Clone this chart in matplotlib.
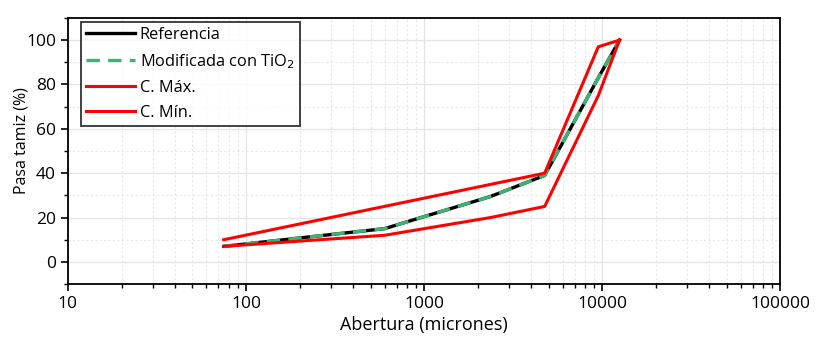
import matplotlib.pyplot as plt
from matplotlib.ticker import LogLocator, MultipleLocator, FixedLocator, FixedFormatter

# datos
abertura = [75, 600, 2360, 4750, 9500, 12500]
referencia = [7, 15, 29.5, 39, 83, 100]
modificada = [7, 15, 29.5, 39, 83, 100]
abertura_max = [75, 4750, 9500, 12500]
c_max = [10, 40, 97, 100]
c_min = [7, 12, 20, 25, 75, 100]

plt.rcParams['font.family'] = ['Open Sans', 'DejaVu Sans']

fig = plt.figure(figsize=(8.18, 3.52), dpi=100)
ax = fig.add_axes([0.083, 0.193, 0.871, 0.756])

ax.plot(abertura, referencia, color='black', lw=2.4, label='Referencia')
ax.plot(abertura, modificada, color='#3cb371', lw=2.4, dashes=(4, 2.5),
        label='Modificada con TiO$_2$')
ax.plot(abertura_max, c_max, color='#ff0000', lw=2.2, label='C. Máx.')
ax.plot(abertura, c_min, color='#ff0000', lw=2.2, label='C. Mín.')

ax.set_xscale('log')
ax.set_xlim(10, 100000)
ax.set_ylim(-10, 110)
ax.xaxis.set_major_locator(FixedLocator([10, 100, 1000, 10000, 100000]))
ax.xaxis.set_major_formatter(FixedFormatter(['10', '100', '1000', '10000', '100000']))
ax.xaxis.set_minor_locator(LogLocator(base=10, subs=range(2, 10)))
ax.yaxis.set_major_locator(FixedLocator([0, 20, 40, 60, 80, 100]))
ax.yaxis.set_minor_locator(MultipleLocator(10))

ax.grid(True, which='major', color='#e4e4e4', lw=0.9)
ax.grid(True, which='minor', color='#e8e8e8', lw=0.8, ls=(0, (2, 2)))
ax.set_axisbelow(True)

ax.tick_params(which='both', direction='out', top=False, right=False, labelsize=12.5)
ax.tick_params(which='major', length=5, width=1.2)
ax.tick_params(which='minor', length=3, width=1)
for s in ax.spines.values():
    s.set_linewidth(1.3)

ax.set_xlabel('Abertura (micrones)', fontsize=13, labelpad=3)
ax.set_ylabel('Pasa tamiz (%)', fontsize=11.5)
ax.yaxis.set_label_coords(-0.054, 0.54)

leg = ax.legend(loc='upper left', bbox_to_anchor=(0.018, 0.985), borderaxespad=0,
                fontsize=11.8, handlelength=3.0, frameon=True, fancybox=False,
                edgecolor='black', borderpad=0.3, labelspacing=0.55,
                handletextpad=0.3)
leg.get_frame().set_linewidth(1.3)

fig.savefig('out.png', dpi=100)
